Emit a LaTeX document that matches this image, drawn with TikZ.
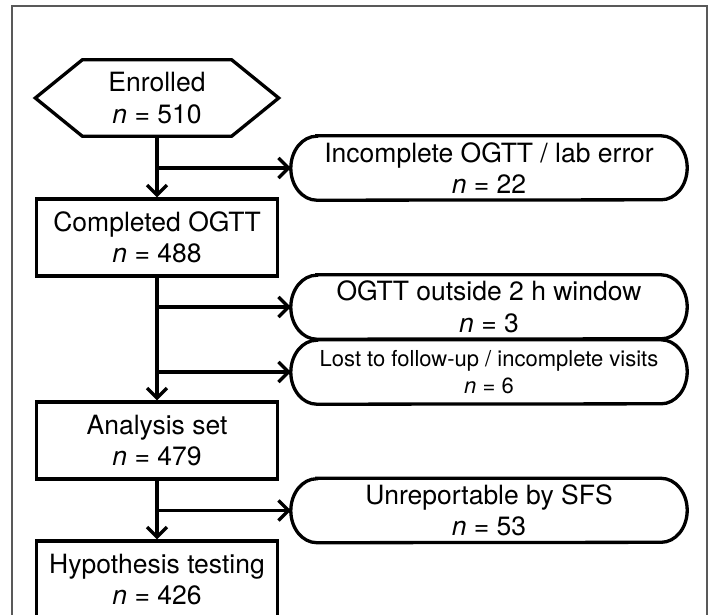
\documentclass[tikz,border=0pt]{standalone}
\usepackage{fontspec}
\setmainfont{TeX Gyre Heros}
\usetikzlibrary{arrows.meta,calc}
\begin{document}
\begin{tikzpicture}[x=1pt,y=-1pt,
  lw/.style={line width=3.3pt},
  txt/.style={align=center,font=\fontsize{26.5}{31.5}\selectfont,inner sep=0pt},
  smalltxt/.style={align=center,font=\fontsize{22}{27}\selectfont,inner sep=0pt},
  boxnode/.style={txt,draw,lw,minimum width=241pt,minimum height=77pt},
  excl/.style={minimum width=396pt,minimum height=64pt},
  arr/.style={lw,-{Straight Barb[length=10pt,width=20pt,line width=3.3pt]}}]
\useasboundingbox (0,0) rectangle (709,614);
\draw[line width=1.3pt,black!65] (12,6) rectangle (707,640);

% main column
\node[txt,minimum width=243pt,minimum height=76pt] (enr) at (157,98) {Enrolled\\{\itshape n} = 510};
\draw[lw,line join=miter] (enr.west) -- ($(enr.north west)+(47,0)$) -- ($(enr.north east)+(-47,0)$) -- (enr.east) -- ($(enr.south east)+(-47,0)$) -- ($(enr.south west)+(47,0)$) -- cycle;
\node[boxnode] (comp) at (157,237.5) {Completed OGTT\\{\itshape n} = 488};
\node[boxnode] (ana) at (157,440.5) {Analysis set\\{\itshape n} = 479};
\node[boxnode] (hyp) at (157,579.5) {Hypothesis testing\\{\itshape n} = 426};

% exclusions
\node[txt,excl] (inc) at (489,168) {Incomplete OGTT / lab error\\{\itshape n} = 22};
\node[txt,excl] (out) at (489,307) {OGTT outside 2 h window\\{\itshape n} = 3};
\node[smalltxt,excl] (lost) at (489,372) {Lost to follow-up / incomplete visits\\{\itshape n} = 6};
\node[txt,excl] (unr) at (489,510.5) {Unreportable by SFS\\{\itshape n} = 53};
\foreach \nm in {inc,out,lost,unr}{
  \draw[lw] ($(\nm.north west)+(26,0)$) -- ($(\nm.north east)+(-26,0)$)
    arc[start angle=90,end angle=-90,x radius=26pt,y radius=32pt]
    -- ($(\nm.south west)+(26,0)$)
    arc[start angle=270,end angle=90,x radius=26pt,y radius=32pt] -- cycle;
}

% connectors
\draw[arr] (enr.south) -- (comp.north);
\draw[arr] (enr.south |- inc.west) -- (inc.west);
\draw[arr] (comp.south) -- (ana.north);
\draw[arr] (comp.south |- out.west) -- (out.west);
\draw[arr] (comp.south |- lost.west) -- (lost.west);
\draw[arr] (ana.south) -- (hyp.north);
\draw[arr] (ana.south |- unr.west) -- (unr.west);
\end{tikzpicture}
\end{document}
